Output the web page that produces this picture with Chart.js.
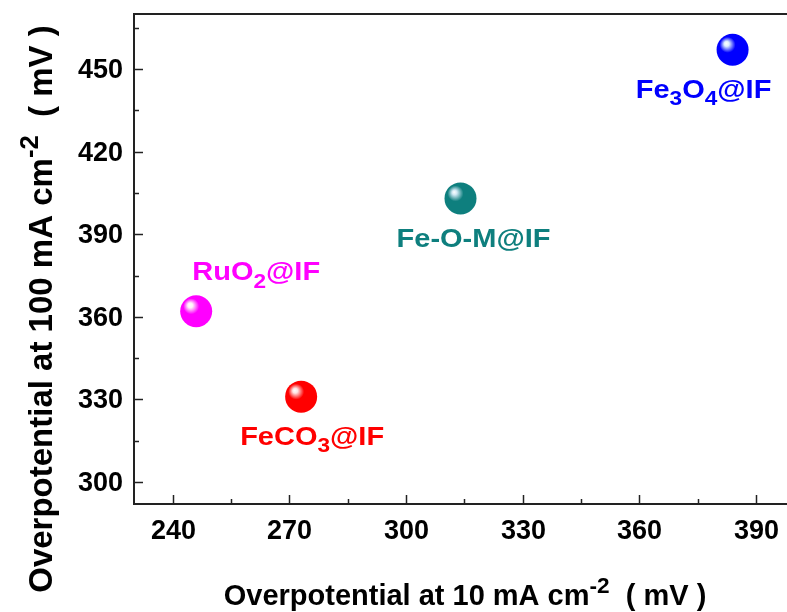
<!DOCTYPE html>
<html>
<head>
<meta charset="utf-8">
<script src="https://cdn.jsdelivr.net/npm/chart.js@4.4.1/dist/chart.umd.min.js"></script>
<style>
  html, body { margin: 0; padding: 0; background: #fff; overflow: hidden; }
  #wrap { width: 787px; height: 612px; position: relative; }
  #chart { display: block; }
</style>
</head>
<body>
<div id="wrap"><canvas id="chart"></canvas></div>
<script>
// Data (mV)
const samples = ['Fe_3O_4@IF', 'Fe-O-M@IF', 'RuO_2@IF', 'FeCO_3@IF'];
const eta10 = [384, 314, 246, 273];
const eta100 = [457, 403, 362, 331];
const colors = ['#0000ff', '#0e7f7e', '#ff00ff', '#ff0000'];
const shines = ['#dcefff', '#d0e8f4', '#fff0f8', '#ffe4e4'];

// axis ticks (major ones get a label)
const xTicks = [240, 270, 300, 330, 360, 390];
const xMinor = [255, 285, 315, 345, 375];
const yTicks = [300, 330, 360, 390, 420, 450];
const yMinor = [315, 345, 375, 405, 435, 465];

const FONT = '"Liberation Sans", Arial, sans-serif';

// where each label sits relative to its ball (centre x, baseline y)
const labelOffsets = [[-29, 48], [13, 49], [60, -31], [11, 48]];

let myChart = document.getElementById('chart').getContext('2d');

const ballFill = (c) => {
  const chart = c.chart;
  const i = c.dataIndex;
  if (c.type !== 'data' || !chart.scales.x) return colors[i] || '#000';
  const x = chart.scales.x.getPixelForValue(eta10[i]);
  const y = chart.scales.y.getPixelForValue(eta100[i]);
  if (!isFinite(x) || !isFinite(y)) return colors[i];
  const r = 16;
  const g = chart.ctx.createRadialGradient(x - 0.4 * r, y - 0.4 * r, 0, x - 0.2 * r, y - 0.2 * r, r * 1.1);
  g.addColorStop(0, '#ffffff');
  g.addColorStop(0.14, shines[i]);
  g.addColorStop(0.45, colors[i]);
  g.addColorStop(1, colors[i]);
  return g;
};

// draw text with subscript / superscript pieces
const drawRich = (ctx, parts, size, x, y, align, sx) => {
  const pieces = parts.map((p) => {
    const small = p.sub || p.sup;
    const fs = small ? size * 0.78 : size;
    ctx.font = 'bold ' + fs + 'px ' + FONT;
    return { t: p.t, fs, w: ctx.measureText(p.t).width, dy: p.sub ? size * 0.3 : p.sup ? -size * 0.42 : 0 };
  });
  const total = pieces.reduce((s, p) => s + p.w, 0) * sx;
  let cx = align === 'center' ? x - total / 2 : x;
  ctx.textAlign = 'left';
  ctx.textBaseline = 'alphabetic';
  pieces.forEach((p) => {
    ctx.font = 'bold ' + p.fs + 'px ' + FONT;
    ctx.save();
    ctx.translate(cx, y + p.dy);
    ctx.scale(sx, 1);
    ctx.fillText(p.t, 0, 0);
    ctx.restore();
    cx += p.w * sx;
  });
};

const parseLabel = (s) => s.split(/_(\d)/).map((t, k) => ({ t, sub: k % 2 === 1 })).filter((p) => p.t);

const framePlugin = {
  id: 'frame',
  afterDraw(chart) {
    const { ctx, chartArea: a, scales } = chart;
    ctx.save();
    ctx.strokeStyle = '#222';
    ctx.lineWidth = 2;
    ctx.beginPath();
    ctx.moveTo(a.right, a.top);
    ctx.lineTo(a.left, a.top);
    ctx.lineTo(a.left, a.bottom);
    ctx.lineTo(a.right, a.bottom);
    ctx.stroke();

    ctx.lineWidth = 1.5;
    ctx.fillStyle = '#000';
    ctx.font = 'bold 27px ' + FONT;
    const xMark = (v, len) => {
      const px = Math.round(scales.x.getPixelForValue(v)) + 0.5;
      ctx.beginPath();
      ctx.moveTo(px, a.bottom);
      ctx.lineTo(px, a.bottom - len);
      ctx.stroke();
      return px;
    };
    const yMark = (v, len) => {
      const py = Math.round(scales.y.getPixelForValue(v)) + 0.5;
      ctx.beginPath();
      ctx.moveTo(a.left, py);
      ctx.lineTo(a.left + len, py);
      ctx.stroke();
      return py;
    };
    xMinor.forEach((v) => xMark(v, 5));
    yMinor.forEach((v) => yMark(v, 5));
    ctx.textAlign = 'center';
    ctx.textBaseline = 'alphabetic';
    xTicks.forEach((v) => {
      const px = xMark(v, 9);
      ctx.fillText(String(v), px, 539);
    });
    ctx.textAlign = 'right';
    ctx.textBaseline = 'middle';
    yTicks.forEach((v) => {
      const py = yMark(v, 9);
      ctx.fillText(String(v), a.left - 11, py + 1);
    });
    ctx.restore();
  },
};

const labelPlugin = {
  id: 'pointLabels',
  afterDatasetsDraw(chart) {
    const { ctx, scales } = chart;
    ctx.save();
    samples.forEach((s, i) => {
      const x = scales.x.getPixelForValue(eta10[i]) + labelOffsets[i][0];
      const y = scales.y.getPixelForValue(eta100[i]) + labelOffsets[i][1];
      ctx.fillStyle = colors[i];
      drawRich(ctx, parseLabel(s), 25, x, y, 'center', 1.16);
    });
    ctx.restore();
  },
};

const titlePlugin = {
  id: 'axisTitles',
  afterDraw(chart) {
    const { ctx } = chart;
    ctx.save();
    ctx.fillStyle = '#000';
    drawRich(ctx, [{ t: 'Overpotential at 10 mA cm' }, { t: '-2', sup: true }, { t: '  ( mV )' }], 29, 465, 605, 'center', 1);
    ctx.translate(52, 309);
    ctx.rotate(-Math.PI / 2);
    drawRich(ctx, [{ t: 'Overpotential at 100 mA cm' }, { t: '-2', sup: true }, { t: '  ( mV )' }], 33, 0, 0, 'center', 1);
    ctx.restore();
  },
};

getCharts = () => {
  new Chart(myChart, {
    type: 'scatter',
    data: {
      datasets: [
        {
          data: eta10.map((x, i) => ({ x, y: eta100[i] })),
          pointRadius: 16,
          pointHoverRadius: 16,
          borderWidth: 0,
          backgroundColor: ballFill,
          hoverBackgroundColor: ballFill,
        },
      ],
    },
    options: {
      responsive: true,
      maintainAspectRatio: false,
      animation: false,
      events: [],
      layout: { autoPadding: false, padding: { top: 14, right: 0, left: 0, bottom: 0 } },
      plugins: {
        legend: { display: false },
        tooltip: { enabled: false },
      },
      scales: {
        x: {
          type: 'linear',
          min: 230,
          max: 398,
          grid: { display: false },
          border: { display: false },
          ticks: { display: false },
          afterFit: (s) => { s.height = 108; },
        },
        y: {
          type: 'linear',
          min: 292,
          max: 470,
          grid: { display: false },
          border: { display: false },
          ticks: { display: false },
          afterFit: (s) => { s.width = 134; },
        },
      },
    },
    plugins: [framePlugin, labelPlugin, titlePlugin],
  });
};

document.addEventListener('DOMContentLoaded', getCharts);
</script>
</body>
</html>
